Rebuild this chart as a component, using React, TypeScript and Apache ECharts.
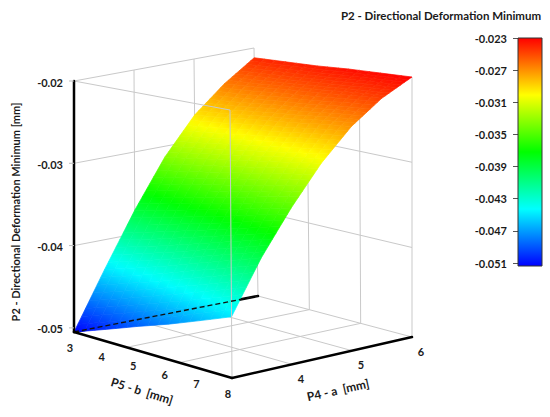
import React, { useEffect, useRef } from "react";
import * as echarts from "echarts";

// ---------------- data ----------------
const A_VALUES = [3, 3.5, 4, 4.5, 5, 5.5, 6]; // P4 - a [mm]
const B_VALUES = [3, 4, 5, 6, 7, 8]; // P5 - b [mm]
// response P2 (Directional Deformation Minimum, mm): one row per b value, columns follow A_VALUES
const Z_B3 = [-0.051, -0.0447, -0.0387, -0.0334, -0.0293, -0.0264, -0.0241];
const Z_B4 = [-0.0497, -0.0436, -0.0379, -0.0328, -0.0289, -0.0261, -0.0239];
const Z_B5 = [-0.0484, -0.0425, -0.037, -0.0322, -0.0284, -0.0257, -0.0237];
const Z_B6 = [-0.0472, -0.0413, -0.0362, -0.0316, -0.028, -0.0254, -0.0234];
const Z_B7 = [-0.0459, -0.0402, -0.0353, -0.031, -0.0275, -0.025, -0.0232];
const Z_B8 = [-0.0446, -0.0391, -0.0345, -0.0304, -0.0271, -0.0247, -0.023];
const Z_ROWS = [Z_B3, Z_B4, Z_B5, Z_B6, Z_B7, Z_B8];

const A_TICKS = [4, 5, 6];
const B_TICKS = [3, 4, 5, 6, 7, 8];
const Z_TICKS = [-0.05, -0.04, -0.03, -0.02];
const LEGEND_TICKS_RANGE = [-0.051, -0.023];
const LEGEND_INTERVAL = 0.004;
const A_GRID = [4, 5];
const B_GRID = [14 / 3, 19 / 3];
const Z_GRID = [-0.04, -0.03];

const A_RANGE = [3, 6];
const B_RANGE = [3, 8];
const Z_AXIS_RANGE = [-0.0505, -0.02];

const COLOR_STOPS: [number, string][] = [
  [-0.051, "#0000ff"],
  [-0.044, "#00ffff"],
  [-0.037, "#00ff00"],
  [-0.03, "#ffff00"],
  [-0.023, "#ff0000"],
];

// ---------------- layout (screen position of the 3D box) ----------------
type Corners = { A: number[]; B: number[]; C: number[]; D: number[] };
// A=(aMin,bMin) B=(aMin,bMax) C=(aMax,bMax) D=(aMax,bMin)
const FLOOR: Corners = { A: [74, 332], B: [232, 378], C: [412, 337], D: [258, 296] };
const TOP: Corners = { A: [74, 81], B: [230, 110], C: [412, 77], D: [254, 48] };
const RIGHT_WALL_TOP = -0.022;
const FONT = "Lato";
const TEXT = "#1a1a1a";

function project(a: number, b: number, w: number): number[] {
  const u = (a - A_RANGE[0]) / (A_RANGE[1] - A_RANGE[0]);
  const v = (b - B_RANGE[0]) / (B_RANGE[1] - B_RANGE[0]);
  const bil = (c: Corners) =>
    [0, 1].map(
      (k) =>
        (1 - u) * (1 - v) * c.A[k] + (1 - u) * v * c.B[k] + u * v * c.C[k] + u * (1 - v) * c.D[k]
    );
  const f = bil(FLOOR);
  const t = bil(TOP);
  return [f[0] + (t[0] - f[0]) * w, f[1] + (t[1] - f[1]) * w];
}
const wAxis = (z: number) => (z - Z_AXIS_RANGE[0]) / (Z_AXIS_RANGE[1] - Z_AXIS_RANGE[0]);
// the surface is scaled to the box height by its legend range
const wSurf = (z: number) =>
  (z - LEGEND_TICKS_RANGE[0]) / (LEGEND_TICKS_RANGE[1] - LEGEND_TICKS_RANGE[0]);

function rgb(h: string) {
  return [1, 3, 5].map((k) => parseInt(h.slice(k, k + 2), 16));
}
function colorAt(v: number): string {
  const s = COLOR_STOPS;
  if (v <= s[0][0]) return s[0][1];
  if (v >= s[s.length - 1][0]) return s[s.length - 1][1];
  for (let i = 0; i < s.length - 1; i++) {
    if (v <= s[i + 1][0]) {
      const t = (v - s[i][0]) / (s[i + 1][0] - s[i][0]);
      const c0 = rgb(s[i][1]);
      const c1 = rgb(s[i + 1][1]);
      const c = c0.map((x, k) => Math.round(x + (c1[k] - x) * t));
      return `rgb(${c[0]},${c[1]},${c[2]})`;
    }
  }
  return s[s.length - 1][1];
}

// ---------------- line tables ----------------
type Kind = "grid" | "axis" | "dash";
type Seg = { p: number[]; q: number[]; kind: Kind };
const [a0, a1] = A_RANGE;
const [b0, b1] = B_RANGE;
const [zf, zt] = Z_AXIS_RANGE;

const backSegs: Seg[] = [];
A_GRID.forEach((a) => backSegs.push({ p: [a, b0, zf], q: [a, b0, zt], kind: "grid" }));
backSegs.push({ p: [a1, b0, zf], q: [a1, b0, zt], kind: "grid" });
Z_GRID.forEach((z) => backSegs.push({ p: [a0, b0, z], q: [a1, b0, z], kind: "grid" }));
backSegs.push({ p: [a0, b0, zt], q: [a1, b0, zt], kind: "grid" });
B_GRID.forEach((b) => backSegs.push({ p: [a1, b, zf], q: [a1, b, RIGHT_WALL_TOP], kind: "grid" }));
backSegs.push({ p: [a1, b1, zf], q: [a1, b1, zt], kind: "grid" });
Z_GRID.forEach((z) => backSegs.push({ p: [a1, b0, z], q: [a1, b1, z], kind: "grid" }));
A_GRID.forEach((a) => backSegs.push({ p: [a, b0, zf], q: [a, b1, zf], kind: "grid" }));
B_GRID.forEach((b) => backSegs.push({ p: [a0, b, zf], q: [a1, b, zf], kind: "grid" }));
backSegs.push({ p: [a1, b0, zf], q: [a1, b1, zf], kind: "grid" });
backSegs.push({ p: [a0, b0, zf], q: [a1, b0, zf], kind: "axis" });

const frontSegs: Seg[] = [
  { p: [a0, b0, zt], q: [a0, b1, zt], kind: "grid" },
  { p: [a0, b1, zf], q: [a0, b1, zt], kind: "grid" },
  { p: [a0, b0, zf], q: [a1, b0, zf], kind: "dash" },
  { p: [a0, b0, zf], q: [a0, b0, zt], kind: "axis" },
  { p: [a0, b0, zf], q: [a0, b1, zf], kind: "axis" },
  { p: [a0, b1, zf], q: [a1, b1, zf], kind: "axis" },
];

const LINE_STYLES: Record<Kind, any> = {
  grid: { stroke: "#c9c9c9", lineWidth: 1 },
  axis: { stroke: "#000", lineWidth: 2.5, lineCap: "round" },
  dash: { stroke: "#111", lineWidth: 1.4, lineDash: [5, 3] },
};

function lineSeries(segs: Seg[], z: number) {
  return {
    type: "custom",
    coordinateSystem: "cartesian2d",
    xAxisIndex: 0,
    yAxisIndex: 0,
    silent: true,
    z,
    data: segs.map((s) => [...s.p, ...s.q]),
    renderItem: (params: any, api: any) => {
      const s = segs[params.dataIndex];
      const p = api.coord(project(api.value(0), api.value(1), wAxis(api.value(2))));
      const q = api.coord(project(api.value(3), api.value(4), wAxis(api.value(5))));
      return {
        type: "line",
        shape: { x1: p[0], y1: p[1], x2: q[0], y2: q[1] },
        style: { ...LINE_STYLES[s.kind], fill: null },
      };
    },
  };
}

// ---------------- surface cells ----------------
const cells: number[][] = [];
for (let j = 0; j < B_VALUES.length - 1; j++)
  for (let i = 0; i < A_VALUES.length - 1; i++) cells.push([i, j]);
cells.sort(
  (c1, c2) =>
    c2[0] / (A_VALUES.length - 1) - c2[1] / (B_VALUES.length - 1) -
    (c1[0] / (A_VALUES.length - 1) - c1[1] / (B_VALUES.length - 1))
);
const NU = 8;
const NV = 3;

const surfaceSeries = {
  type: "custom",
  coordinateSystem: "cartesian2d",
  xAxisIndex: 0,
  yAxisIndex: 0,
  silent: true,
  z: 2,
  data: cells,
  renderItem: (params: any, api: any) => {
    const i = api.value(0);
    const j = api.value(1);
    const aL = A_VALUES[i], aR = A_VALUES[i + 1];
    const bL = B_VALUES[j], bR = B_VALUES[j + 1];
    const z00 = Z_ROWS[j][i], z10 = Z_ROWS[j][i + 1], z01 = Z_ROWS[j + 1][i], z11 = Z_ROWS[j + 1][i + 1];
    const zAt = (fu: number, fv: number) =>
      (1 - fu) * (1 - fv) * z00 + fu * (1 - fv) * z10 + (1 - fu) * fv * z01 + fu * fv * z11;
    const pt = (fu: number, fv: number) =>
      api.coord(project(aL + (aR - aL) * fu, bL + (bR - bL) * fv, wSurf(zAt(fu, fv))));
    const children: any[] = [];
    for (let s = NU - 1; s >= 0; s--) {
      for (let t = 0; t < NV; t++) {
        const u0 = s / NU, u1 = (s + 1) / NU, v0 = t / NV, v1 = (t + 1) / NV;
        const vm = (v0 + v1) / 2;
        const p00 = pt(u0, v0), p10 = pt(u1, v0), p11 = pt(u1, v1), p01 = pt(u0, v1);
        const sA = [(p00[0] + p01[0]) / 2, (p00[1] + p01[1]) / 2];
        const sB = [(p10[0] + p11[0]) / 2, (p10[1] + p11[1]) / 2];
        const grad = new echarts.graphic.LinearGradient(
          sA[0], sA[1], sB[0], sB[1],
          [
            { offset: 0, color: colorAt(zAt(u0, vm)) },
            { offset: 1, color: colorAt(zAt(u1, vm)) },
          ],
          true
        );
        children.push({
          type: "polygon",
          shape: { points: [p00, p10, p11, p01] },
          style: { fill: grad, stroke: grad, lineWidth: 0.7 },
        });
      }
    }
    return { type: "group", children };
  },
};

// ---------------- tick labels ----------------
type Lab = { pos: number[]; text: string; dx: number; dy: number; align: string; tick?: boolean };
const labels: Lab[] = [
  ...Z_TICKS.map((z) => ({ pos: [a0, b0, z], text: z.toFixed(2), dx: -11, dy: 1, align: "right", tick: true })),
  ...B_TICKS.map((b) => ({ pos: [a0, b, zf], text: String(b), dx: -4, dy: 15, align: "center" })),
  ...A_TICKS.map((a) => ({ pos: [a, b1, zf], text: String(a), dx: 9, dy: 14, align: "center" })),
];

const labelSeries = {
  type: "custom",
  coordinateSystem: "cartesian2d",
  xAxisIndex: 0,
  yAxisIndex: 0,
  silent: true,
  z: 4,
  data: labels.map((l) => l.pos),
  renderItem: (params: any, api: any) => {
    const L = labels[params.dataIndex];
    const p = api.coord(project(api.value(0), api.value(1), wAxis(api.value(2))));
    const children: any[] = [
      {
        type: "text",
        x: p[0] + L.dx,
        y: p[1] + L.dy,
        style: {
          text: L.text,
          fill: TEXT,
          fontSize: 11,
          fontWeight: "bold",
          fontFamily: FONT,
          align: L.align,
          verticalAlign: "middle",
        },
      },
    ];
    if (L.tick)
      children.push({
        type: "line",
        shape: { x1: p[0] - 5, y1: p[1], x2: p[0], y2: p[1] },
        style: { stroke: "#bdbdbd", lineWidth: 1 },
      });
    return { type: "group", children };
  },
};

// ---------------- colour bar ----------------
const barSeries = {
  type: "custom",
  coordinateSystem: "cartesian2d",
  xAxisIndex: 1,
  yAxisIndex: 1,
  silent: true,
  z: 2,
  data: [[0, LEGEND_TICKS_RANGE[0], 1, LEGEND_TICKS_RANGE[1]]],
  renderItem: (params: any, api: any) => {
    const p0 = api.coord([api.value(0), api.value(1)]);
    const p1 = api.coord([api.value(2), api.value(3)]);
    const span = LEGEND_TICKS_RANGE[1] - LEGEND_TICKS_RANGE[0];
    const stops = COLOR_STOPS.slice()
      .reverse()
      .map(([v, c]) => ({ offset: (LEGEND_TICKS_RANGE[1] - v) / span, color: c }));
    return {
      type: "rect",
      shape: { x: p0[0], y: p1[1], width: p1[0] - p0[0], height: p0[1] - p1[1] + 3 },
      style: {
        fill: new echarts.graphic.LinearGradient(0, 0, 0, 1, stops),
        stroke: "#333",
        lineWidth: 1,
      },
    };
  },
};

const textStyle = (size: number) => ({ fill: TEXT, fontSize: size, fontWeight: "bold", fontFamily: FONT, align: "center", verticalAlign: "middle" });

const option: any = {
  animation: false,
  backgroundColor: "#ffffff",
  grid: [
    { left: 0, top: 0, right: 0, bottom: 0 },
    { left: 518, top: 38, width: 24, height: 225 },
  ],
  xAxis: [
    { type: "value", gridIndex: 0, min: 0, max: 550, show: false },
    { type: "value", gridIndex: 1, min: 0, max: 1, show: false },
  ],
  yAxis: [
    { type: "value", gridIndex: 0, min: 0, max: 417, inverse: true, show: false },
    {
      type: "value",
      gridIndex: 1,
      min: LEGEND_TICKS_RANGE[0],
      max: LEGEND_TICKS_RANGE[1],
      interval: LEGEND_INTERVAL,
      position: "left",
      axisLine: { show: false },
      splitLine: { show: false },
      axisTick: { show: true, length: 5, lineStyle: { color: "#555", width: 1 } },
      axisLabel: {
        margin: 11,
        color: TEXT,
        fontSize: 11,
        fontWeight: "bold",
        fontFamily: FONT,
        formatter: (v: number) => v.toFixed(3),
      },
    },
  ],
  graphic: [
    { type: "text", x: 441, y: 15, style: { text: "P2 - Directional Deformation Minimum", ...textStyle(11.5) } },
    {
      type: "text",
      x: 15,
      y: 212,
      rotation: Math.PI / 2,
      style: { text: "P2 - Directional Deformation Minimum [mm]", ...textStyle(11) },
    },
    { type: "text", x: 142, y: 391, rotation: -0.3, style: { text: "P5 - b  [mm]", ...textStyle(12) } },
    { type: "text", x: 338, y: 390, rotation: 0.22, style: { text: "P4 - a  [mm]", ...textStyle(12) } },
  ],
  series: [lineSeries(backSegs, 1), surfaceSeries, lineSeries(frontSegs, 3), labelSeries, barSeries],
};

export default function App() {
  const ref = useRef<HTMLDivElement>(null);
  useEffect(() => {
    document.body.style.margin = "0";
    const chart = echarts.init(ref.current!, null, { renderer: "svg" });
    chart.setOption(option);
    return () => chart.dispose();
  }, []);
  return <div ref={ref} style={{ width: 550, height: 417 }} />;
}
